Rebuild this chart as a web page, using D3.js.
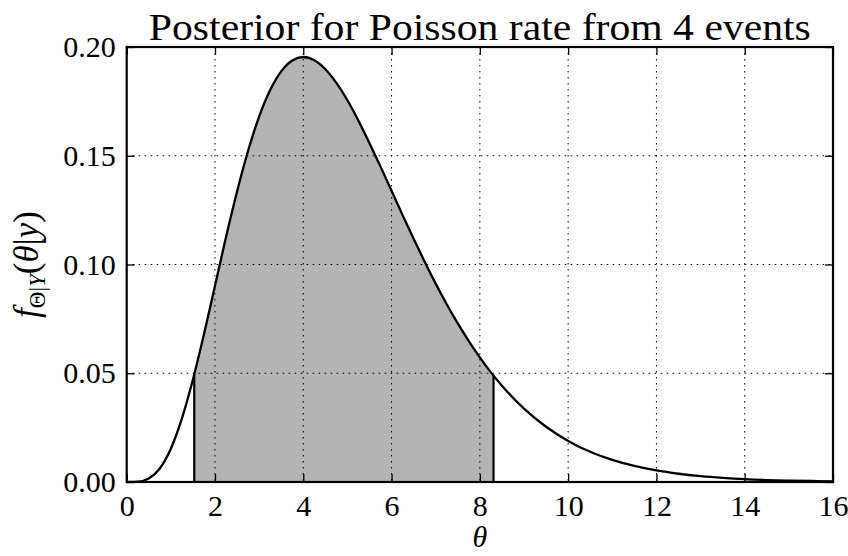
<!DOCTYPE html>
<html>
<head>
<meta charset="utf-8">
<script src="https://cdn.jsdelivr.net/npm/d3@7"></script>
<style>
  body { margin: 0; background: #fff; }
  svg text { font-family: "Liberation Serif", "DejaVu Serif", serif; fill: #000; }
</style>
</head>
<body>
<script>
// posterior density
const theta = [0, 0.25, 0.5, 0.75, 1, 1.25, 1.5, 1.75, 2, 2.25, 2.5, 2.75, 3, 3.25, 3.5, 3.75,
  4, 4.25, 4.5, 4.75, 5, 5.25, 5.5, 5.75, 6, 6.25, 6.5, 6.75, 7, 7.25, 7.5, 7.75, 8, 8.25, 8.5,
  9, 9.5, 10, 10.5, 11, 11.5, 12, 12.5, 13, 13.5, 14, 14.5, 15, 15.5, 16];
const density = [0, 0.00013, 0.0016, 0.0062, 0.0153, 0.0291, 0.0471, 0.0679, 0.0902, 0.1126,
  0.1336, 0.1523, 0.1680, 0.1802, 0.1888, 0.1938, 0.1954, 0.1939, 0.1898, 0.1835, 0.1755,
  0.1661, 0.1558, 0.1450, 0.1339, 0.1227, 0.1118, 0.1013, 0.0912, 0.0817, 0.0729, 0.0648,
  0.0573, 0.0504, 0.0443, 0.0337, 0.0254, 0.0189, 0.0139, 0.0102, 0.0074, 0.0053, 0.0038,
  0.0027, 0.0019, 0.0013, 0.0009, 0.00065, 0.00045, 0.00031];

// shaded interval
const intervalTheta = [1.53, 8.31];
const intervalDensity = [0.0494, 0.0489];

const xTicks = [0, 2, 4, 6, 8, 10, 12, 14, 16];
const yTicks = [0, 0.05, 0.10, 0.15, 0.20];

const W = 848, H = 556;
const margin = {top: 47, right: 15, bottom: 74, left: 126.7};
const w = W - margin.left - margin.right;
const h = H - margin.top - margin.bottom;

const svg = d3.select("body").append("svg")
    .attr("width", W).attr("height", H);

const g = svg.append("g")
    .attr("transform", "translate(" + margin.left + "," + margin.top + ")");

const x = d3.scaleLinear().domain([0, 16]).range([0, w]);
const y = d3.scaleLinear().domain([0, 0.2]).range([h, 0]);

const pts = theta.map((t, i) => ({t: t, d: density[i]}));

// shaded region
let shade = [{t: intervalTheta[0], d: intervalDensity[0]}]
    .concat(pts.filter(p => p.t > intervalTheta[0] && p.t < intervalTheta[1]))
    .concat([{t: intervalTheta[1], d: intervalDensity[1]}]);

g.append("path")
    .datum(shade)
    .attr("fill", "#b3b3b3")
    .attr("d", d3.area().x(p => x(p.t)).y0(h).y1(p => y(p.d)).curve(d3.curveMonotoneX));

///////////////////////
// grid
g.append("g").selectAll("line").data(xTicks.slice(1, -1)).enter().append("line")
    .attr("x1", d => x(d)).attr("x2", d => x(d))
    .attr("y1", 0).attr("y2", h)
    .attr("stroke", "#000").attr("stroke-width", 1).attr("stroke-dasharray", "1.5,4.5");

g.append("g").selectAll("line").data(yTicks.slice(1, -1)).enter().append("line")
    .attr("y1", d => y(d)).attr("y2", d => y(d))
    .attr("x1", 0).attr("x2", w)
    .attr("stroke", "#000").attr("stroke-width", 1).attr("stroke-dasharray", "1.5,4.5");

// interval edges
g.append("g").selectAll("line").data(intervalTheta).enter().append("line")
    .attr("x1", d => x(d)).attr("x2", d => x(d))
    .attr("y1", h).attr("y2", (d, i) => y(intervalDensity[i]))
    .attr("stroke", "#000").attr("stroke-width", 2.2);

// curve
g.append("path")
    .datum(pts)
    .attr("fill", "none").attr("stroke", "#000").attr("stroke-width", 2.3)
    .attr("d", d3.line().x(p => x(p.t)).y(p => y(p.d)).curve(d3.curveMonotoneX));

///////////////////////
// axes
const fmtY = d3.format(".2f");
function styleAxis(sel) {
    sel.select(".domain").remove();
    sel.selectAll(".tick line").attr("stroke", "#000").attr("stroke-width", 1.3);
    sel.selectAll(".tick text").attr("font-size", 30).attr("font-family", "Liberation Serif");
}

g.append("g").attr("transform", "translate(0," + h + ")")
    .call(d3.axisBottom(x).tickValues(xTicks).tickSizeInner(-8).tickSizeOuter(0).tickPadding(13))
    .call(styleAxis);
g.append("g")
    .call(d3.axisLeft(y).tickValues(yTicks).tickFormat(fmtY).tickSizeInner(-8).tickSizeOuter(0).tickPadding(11))
    .call(styleAxis);
g.append("g")
    .call(d3.axisTop(x).tickValues(xTicks).tickFormat("").tickSizeInner(-8).tickSizeOuter(0))
    .call(styleAxis);
g.append("g").attr("transform", "translate(" + w + ",0)")
    .call(d3.axisRight(y).tickValues(yTicks).tickFormat("").tickSizeInner(-8).tickSizeOuter(0))
    .call(styleAxis);

// frame
g.append("rect").attr("width", w).attr("height", h)
    .attr("fill", "none").attr("stroke", "#000").attr("stroke-width", 2.2);

///////////////////////
// labels
svg.append("text")
    .attr("x", margin.left + w / 2).attr("y", 40)
    .attr("text-anchor", "middle").attr("font-size", 38)
    .attr("textLength", 662).attr("lengthAdjust", "spacingAndGlyphs")
    .text("Posterior for Poisson rate from 4 events");

svg.append("text")
    .attr("x", margin.left + w / 2).attr("y", 547)
    .attr("text-anchor", "middle").attr("font-size", 30).attr("font-style", "italic")
    .text("θ");

const yl = svg.append("text")
    .attr("transform", "translate(38," + (margin.top + h / 2) + ") rotate(-90)")
    .attr("text-anchor", "middle").attr("font-size", 35);
yl.append("tspan").attr("font-style", "italic").text("f");
yl.append("tspan").attr("font-size", 23).attr("dy", 7).text("Θ|");
yl.append("tspan").attr("font-size", 23).attr("font-style", "italic").text("Y");
yl.append("tspan").attr("dy", -7).text("(");
yl.append("tspan").attr("font-style", "italic").text("θ");
yl.append("tspan").text("|");
yl.append("tspan").attr("font-style", "italic").text("y");
yl.append("tspan").text(")");
</script>
</body>
</html>
